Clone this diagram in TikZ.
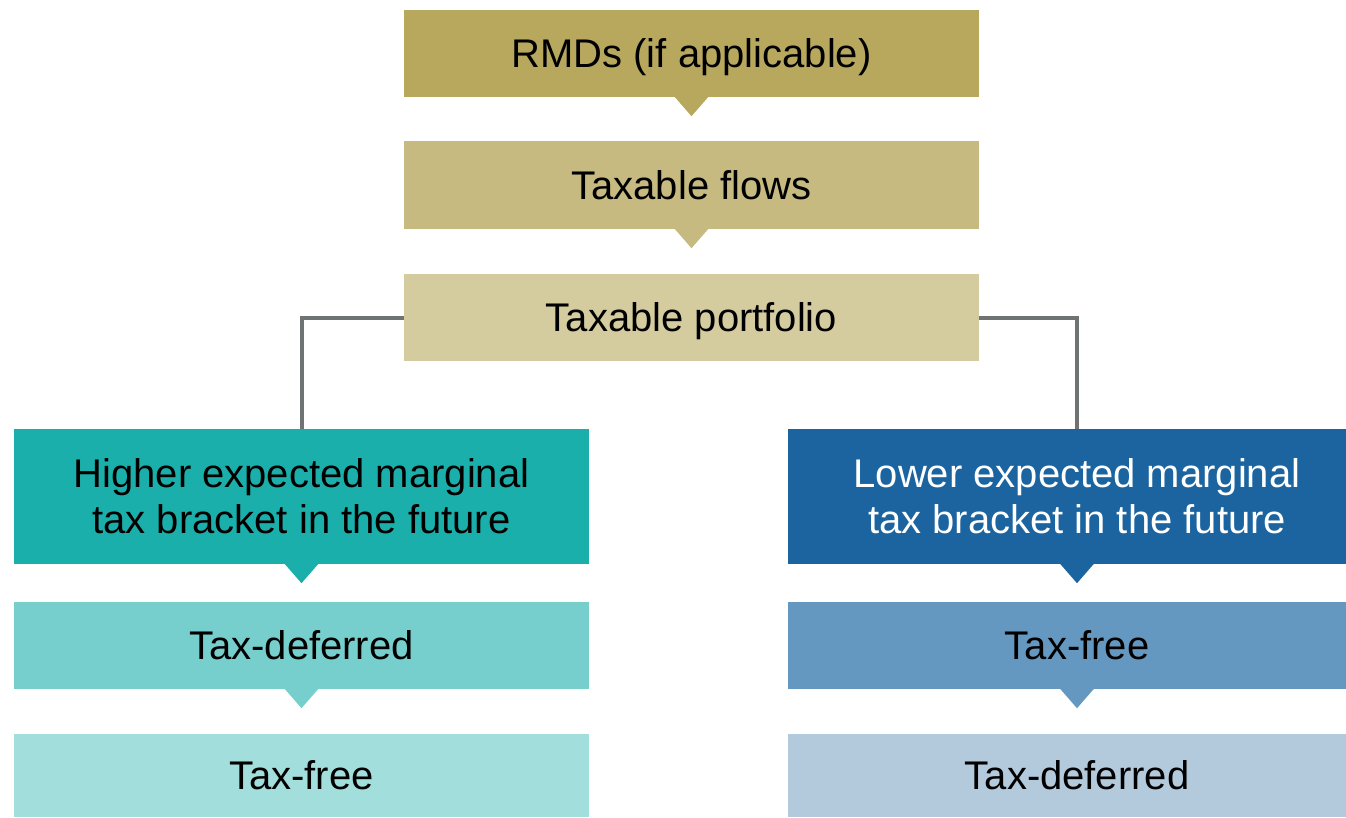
\documentclass[tikz,border=0pt]{standalone}
\usepackage{fontspec}
\setmainfont{Liberation Sans}
\definecolor{gA}{HTML}{B8A85E}
\definecolor{gB}{HTML}{C6BA80}
\definecolor{gC}{HTML}{D4CC9E}
\definecolor{tA}{HTML}{1AAFAA}
\definecolor{tB}{HTML}{76CFCD}
\definecolor{tC}{HTML}{A2DEDC}
\definecolor{bA}{HTML}{1B64A0}
\definecolor{bB}{HTML}{6598C0}
\definecolor{bC}{HTML}{B3CADD}
\definecolor{connGray}{HTML}{6F7374}
\newcommand\pointer[2]{\fill[#2] ([xshift=-17pt,yshift=0.5pt]#1.south) -- ([xshift=17pt,yshift=0.5pt]#1.south) -- ([yshift=-19pt]#1.south) -- cycle;}
\begin{document}
\begin{tikzpicture}[x=1pt,y=-1pt,
  box/.style={minimum width=575pt, minimum height=87pt, inner sep=0pt, align=center,
    text height=28.6pt, text depth=0pt,
    font=\fontsize{40}{46}\selectfont, text=black},
  twoline/.style={minimum height=135pt, text height=74.6pt},
  conn/.style={draw=connGray, line width=4pt}]
\useasboundingbox (0,0) rectangle (1346,817);
\clip (0,0) rectangle (1346,817);
\node[box, fill=gA] (b1) at (691.5,53.5) {RMDs (if applicable)};
\node[box, fill=gB, minimum height=88pt] (b2) at (691.5,185) {Taxable flows};
\node[box, fill=gC] (b3) at (691.5,317.5) {Taxable portfolio};
\node[box, twoline, fill=tA] (hl) at (301.5,496.5) {Higher expected marginal\\tax bracket in the future};
\node[box, fill=tB] (hl2) at (301.5,645.5) {Tax-deferred};
\node[box, fill=tC, minimum height=83pt] (hl3) at (301.5,775.5) {Tax-free};
\node[box, twoline, fill=bA, minimum width=578pt, text=white] (hr) at (1077,496.5) {Lower expected marginal\\tax bracket in the future};
\node[box, fill=bB, minimum width=578pt] (hr2) at (1077,645.5) {Tax-free};
\node[box, fill=bC, minimum width=578pt, minimum height=83pt] (hr3) at (1077,775.5) {Tax-deferred};
\pointer{b1}{gA}
\pointer{b2}{gB}
\pointer{hl}{tA}
\pointer{hl2}{tB}
\pointer{hr}{bA}
\pointer{hr2}{bB}
\draw[conn] (b3.west) -| (hl.north);
\draw[conn] (b3.east) -| (hr.north);
\end{tikzpicture}
\end{document}
